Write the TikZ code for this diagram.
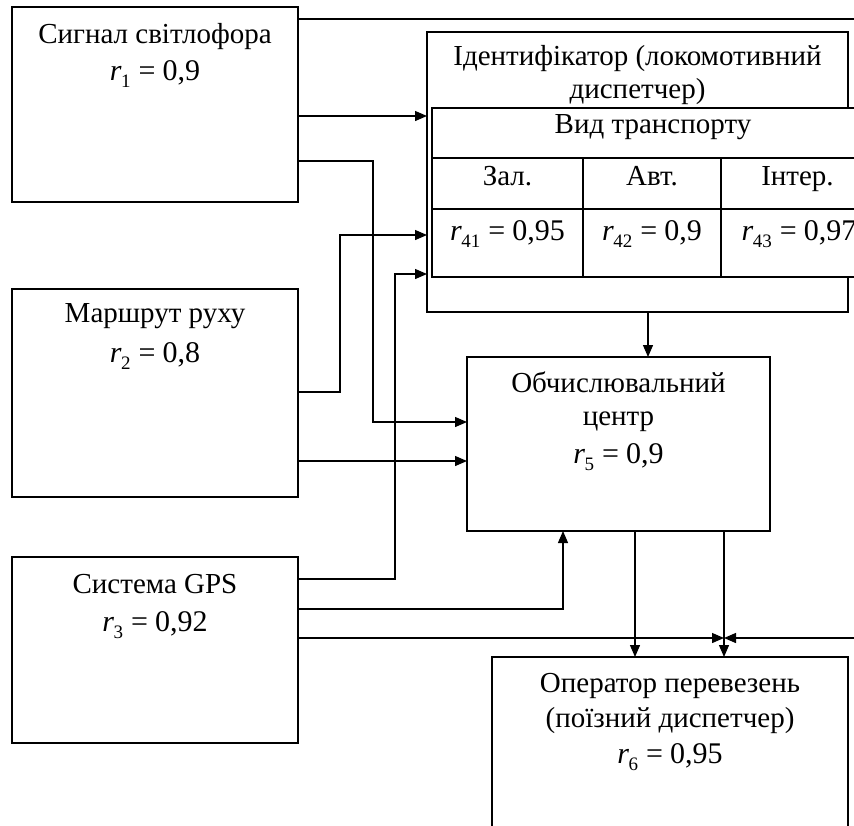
\documentclass[tikz,border=0pt]{standalone}
\usepackage{fontspec}
\setmainfont{Liberation Serif}
\usetikzlibrary{arrows.meta}
\newcommand{\rv}[2]{{\fontsize{30}{31}\selectfont\textit{r}\kern-0.5pt\raisebox{-7pt}{\fontsize{19}{19}\selectfont #1}\hspace{8pt}=\hspace{7pt}#2}}
\begin{document}
\begin{tikzpicture}[x=1pt,y=-1pt, line width=1.3pt,
  box/.style={draw, fill=white, anchor=north west, inner sep=0pt, outer sep=0pt},
  lbl/.style={anchor=base, inner sep=0pt, font=\fontsize{29}{33}\selectfont},
  arr/.style={-{Triangle[length=12pt,width=10pt]}}]
\useasboundingbox (0,0) rectangle (854,825);
\clip (0,0) rectangle (854,825);
\fill[white] (0,0) rectangle (854,825);

% boxes
\node[box, minimum width=286pt, minimum height=195pt] (b1) at (12,7) {};
\node[box, minimum width=286pt, minimum height=208pt] (b2) at (12,289) {};
\node[box, minimum width=286pt, minimum height=186pt] (b3) at (12,557) {};
\node[box, minimum width=421pt, minimum height=280pt] (id) at (427,32) {};
\node[box, minimum width=303pt, minimum height=174pt] (b5) at (467,357) {};
\node[box, minimum width=356pt, minimum height=220pt] (b6) at (492,657) {};

% table
\node[box, minimum width=442pt, minimum height=50pt] (th) at (432,108) {};
\node[box, minimum width=151pt, minimum height=51pt] (c11) at (432,158) {};
\node[box, minimum width=138pt, minimum height=51pt] (c12) at (583,158) {};
\node[box, minimum width=153pt, minimum height=51pt] (c13) at (721,158) {};
\node[box, minimum width=151pt, minimum height=68pt] (c21) at (432,209) {};
\node[box, minimum width=138pt, minimum height=68pt] (c22) at (583,209) {};
\node[box, minimum width=153pt, minimum height=68pt] (c23) at (721,209) {};
\draw[line width=2pt] (c12.north east) -- (c22.south east);

% labels
\node[lbl] (t1a) at (155,43) {Сигнал світлофора};
\node[lbl] (t1b) at (155,80) {\rv{1}{0,9}};
\node[lbl] (t2a) at (155,322) {Маршрут руху};
\node[lbl] (t2b) at (155,362) {\rv{2}{0,8}};
\node[lbl] (t3a) at (155,593) {Система GPS};
\node[lbl] (t3b) at (155,631) {\rv{3}{0,92}};
\node[lbl] (t4a) at (637.5,65) {Ідентифікатор (локомотивний};
\node[lbl] (t4b) at (637.5,98) {диспетчер)};
\node[lbl] (th1) at (653,133) {Вид транспорту};
\node[lbl] (h1) at (507.5,185) {Зал.};
\node[lbl] (h2) at (652,185) {Авт.};
\node[lbl] (h3) at (797.5,185) {Інтер.};
\node[lbl] (v1) at (507.5,240) {\rv{41}{0,95}};
\node[lbl] (v2) at (652,240) {\rv{42}{0,9}};
\node[lbl] (v3) at (799,240) {\rv{43}{0,97}};
\node[lbl] (t5a) at (618.5,392) {Обчислювальний};
\node[lbl] (t5b) at (618.5,425) {центр};
\node[lbl] (t5c) at (618.5,463) {\rv{5}{0,9}};
\node[lbl] (t6a) at (670,692) {Оператор перевезень};
\node[lbl] (t6b) at (670,727) {(поїзний диспетчер)};
\node[lbl] (t6c) at (670,763) {\rv{6}{0,95}};

% connectors
\coordinate (eTop) at (870,19);
\coordinate (meet) at (724,638);
\coordinate (eR) at (870,638);
\draw (b1.east |- eTop) -- (eTop);
\draw[arr] (b1.east |- 0,116) -- (id.west |- 0,116);
\draw[arr] (b1.east |- 0,161) -| (373,422) -- (b5.west |- 0,422);
\draw[arr] (b2.east |- 0,392) -| (340,235) -- (id.west |- 0,235);
\draw[arr] (b2.east |- 0,461) -- (b5.west |- 0,461);
\draw[arr] (b3.east |- 0,579) -| (395,274) -- (id.west |- 0,274);
\draw[arr] (b3.east |- 0,609) -| (b5.south -| 563,0);
\draw[arr] (b3.east |- meet) -- (meet);
\draw[arr] (eR) -- (meet);
\draw[arr] (b5.south -| 635,0) -- (b6.north -| 635,0);
\draw[arr] (b5.south -| meet) -- (b6.north -| meet);
\draw[arr] (id.south -| 648,0) -- (b5.north -| 648,0);
\end{tikzpicture}
\end{document}
